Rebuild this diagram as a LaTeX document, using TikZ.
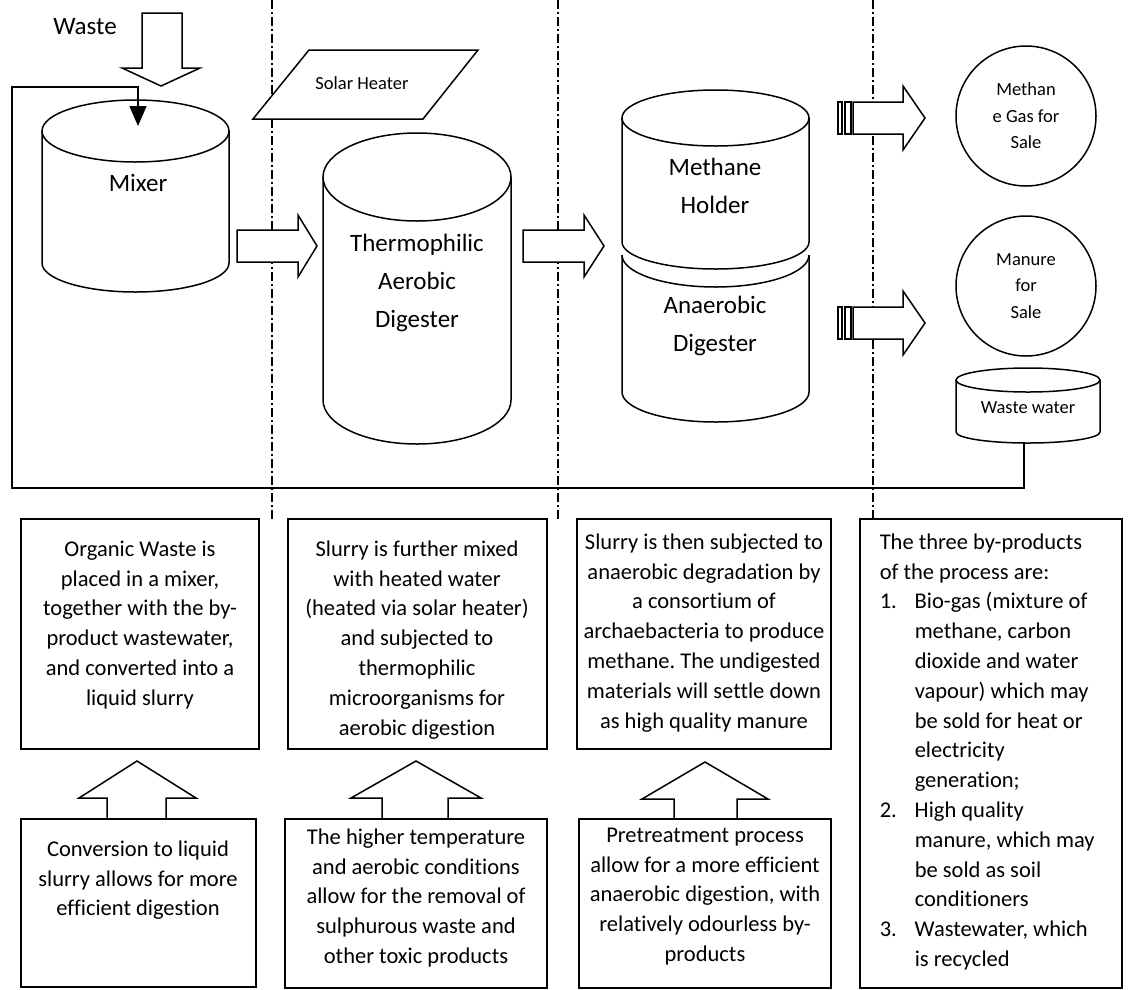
\documentclass[tikz,border=0pt]{standalone}
\usepackage{fontspec}
\setmainfont{Carlito}[Ligatures=NoCommon]
\usetikzlibrary{arrows.meta}
\frenchspacing

\tikzset{
  panel/.style={draw, line width=1.5pt, inner sep=0pt},
  bodytext/.style={font=\fontsize{22.5}{29.8}\selectfont, align=center, inner sep=0pt},
  tanktext/.style={font=\fontsize{25}{38}\selectfont, align=center, inner sep=0pt},
  smalltext/.style={font=\fontsize{18.5}{26.5}\selectfont, align=center, inner sep=0pt},
  divider/.style={line width=1.5pt, dash pattern=on 9pt off 3pt on 2pt off 3pt},
  blockarrow/.style={draw, fill=white, line width=1.5pt},
  stripe/.style={draw, fill=white, line width=1.1pt}
}

\begin{document}
\begin{tikzpicture}[x=1pt,y=-1pt,line width=1.5pt]
\useasboundingbox (0,0) rectangle (1130,989);

% dividers between the stages
\foreach \x in {272,558,873}
  \draw[divider] (\x,0)--(\x,519);

% waste input
\node[tanktext] (waste) at (85,27) {Waste};
\draw[blockarrow] (142,13)--(182,13)--(182,68)--(200,68)--(161,86)--(122,68)--(142,68)--cycle;

% mixer
\draw (135.5,131) ellipse[x radius=93.5,y radius=31];
\draw (42,131)--(42,263) arc[start angle=180,end angle=0,x radius=93.5,y radius=29]--(229,131);
\node[tanktext] (mixer) at (138,183) {Mixer};

% solar heater
\draw[blockarrow] (309,50)--(478,50)--(423,119)--(253,119)--cycle;
\node[smalltext] (solar) at (362,83) {Solar Heater};

% thermophilic digester
\draw (417,177) ellipse[x radius=94,y radius=44];
\draw (323,177)--(323,400) arc[start angle=180,end angle=0,x radius=94,y radius=44]--(511,177);
\node[tanktext] (thermo) at (417,283) {Thermophilic\\Aerobic\\Digester};

% methane holder and anaerobic digester
\draw (715.5,118) ellipse[x radius=93.5,y radius=28];
\draw (622,118)--(622,242) arc[start angle=180,end angle=0,x radius=93.5,y radius=27]--(809,118);
\draw (622,255) arc[start angle=180,end angle=0,x radius=93.5,y radius=32];
\draw (622,255)--(622,392) arc[start angle=180,end angle=0,x radius=93.5,y radius=30]--(809,255);
\node[tanktext] (holder) at (715,186) {Methane\\Holder};
\node[tanktext] (anaer) at (715,326) {Anaerobic\\Digester};

% flow arrows
\draw[blockarrow] (237,230)--(298,230)--(298,215)--(317,246)--(298,277)--(298,262)--(237,262)--cycle;
\draw[blockarrow] (523,230)--(584,230)--(584,215)--(604,246)--(584,277)--(584,262)--(523,262)--cycle;

% striped arrows to products
\foreach \y in {102,307}{
  \draw[stripe] (838,\y) rectangle (842,\y+32);
  \draw[stripe] (845,\y) rectangle (851,\y+32);
  \draw[blockarrow] (853,\y)--(903,\y)--(903,\y-16)--(925,\y+16)--(903,\y+48)--(903,\y+32)--(853,\y+32)--cycle;
}

% products
\node[draw, circle, minimum size=140pt, smalltext] (gas) at (1026,116) {Methan\\e Gas for\\Sale};
\node[draw, circle, minimum size=140pt, smalltext] (manure) at (1026,286) {Manure\\for\\Sale};
\draw (1028,380) ellipse[x radius=72,y radius=12];
\draw (956,380)--(956,432) arc[start angle=180,end angle=0,x radius=72,y radius=11]--(1100,380);
\node[smalltext] (ww) at (1028,408) {Waste water};

% recycle line
\coordinate (wwout) at (1024,443);
\coordinate (mixin) at (138,126);
\draw[-{Triangle[length=20pt,width=17pt]}] (wwout)--(1024,488)-|(12,87)-|(mixin);

% description boxes
\node[panel, minimum width=238pt, minimum height=230pt] (organic) at (140,634) {};
\node[panel, minimum width=259pt, minimum height=230pt] (slurry) at (417.5,634) {};
\node[panel, minimum width=254pt, minimum height=230pt] (degrade) at (704,634) {};
\node[panel, minimum width=235pt, minimum height=168pt] (convert) at (138.5,903) {};
\node[panel, minimum width=262pt, minimum height=169pt] (higher) at (416,903.5) {};
\node[panel, minimum width=252pt, minimum height=169pt] (pretreat) at (705,903.5) {};
\node[panel, minimum width=262pt, minimum height=469pt] (byprod) at (991,753.5) {};

\node[bodytext, anchor=north] at (140,540) {Organic Waste is\\placed in a mixer,\\together with the by-\\product wastewater,\\and converted into a\\liquid slurry};
\node[bodytext, anchor=north] at (417,540) {Slurry is further mixed\\with heated water\\(heated via solar heater)\\and subjected to\\thermophilic\\microorganisms for\\aerobic digestion};
\node[bodytext, anchor=north] at (704,533) {Slurry is then subjected to\\anaerobic degradation by\\a consortium of\\archaebacteria to produce\\methane. The undigested\\materials will settle down\\as high quality manure};
\node[bodytext, anchor=north] at (138,840) {Conversion to liquid\\slurry allows for more\\efficient digestion};
\node[bodytext, anchor=north] at (416,828) {The higher temperature\\and aerobic conditions\\allow for the removal of\\sulphurous waste and\\other toxic products};
\node[bodytext, anchor=north] at (705,827) {Pretreatment process\\allow for a more efficient\\anaerobic digestion, with\\relatively odourless by-\\products};
\node[bodytext, align=left, anchor=north west] at (879,533) {The three by-products\\of the process are:\\\makebox[35pt][l]{1.}Bio-gas (mixture of\\\hspace*{35pt}methane, carbon\\\hspace*{35pt}dioxide and water\\\hspace*{35pt}vapour) which may\\\hspace*{35pt}be sold for heat or\\\hspace*{35pt}electricity\\\hspace*{35pt}generation;\\\makebox[35pt][l]{2.}High quality\\\hspace*{35pt}manure, which may\\\hspace*{35pt}be sold as soil\\\hspace*{35pt}conditioners\\\makebox[35pt][l]{3.}Wastewater, which\\\hspace*{35pt}is recycled};

% up arrows between boxes
\draw (107,819)--(107,798)--(79,798)--(137,761)--(196,798)--(166,798)--(166,819);
\draw (382,819)--(382,798)--(351,798)--(416,761)--(481,798)--(448,798)--(448,819);
\draw (674,819)--(674,799)--(642,799)--(705,762)--(768,799)--(737,799)--(737,819);
\end{tikzpicture}
\end{document}
